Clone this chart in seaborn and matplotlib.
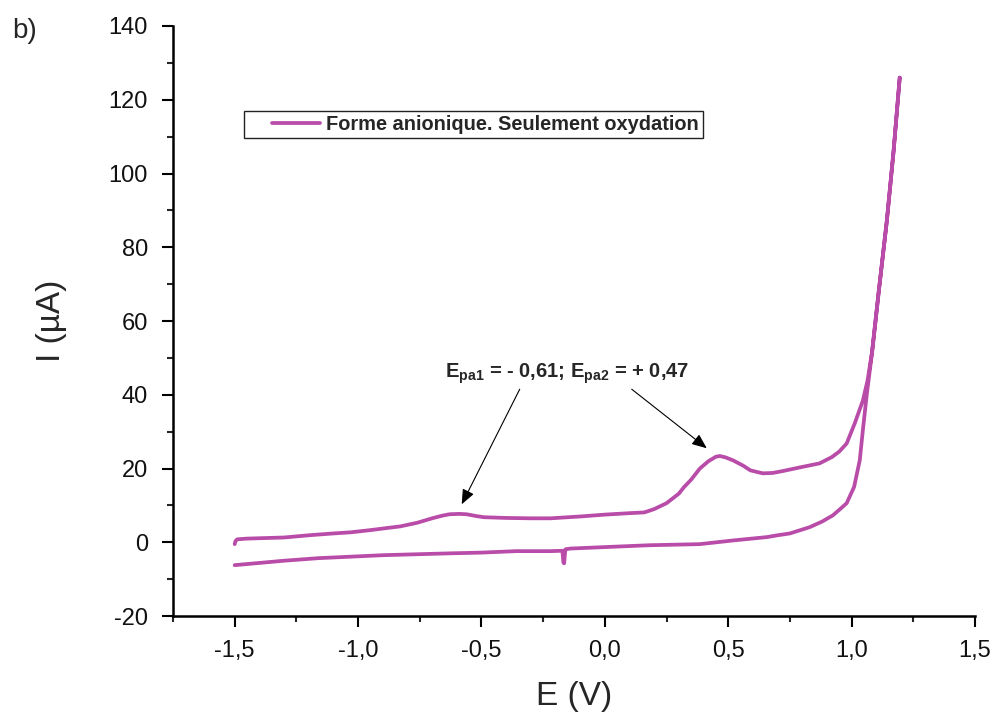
import numpy as np
import pandas as pd
import matplotlib
matplotlib.use("Agg")
import matplotlib.pyplot as plt
import seaborn as sns
from matplotlib.lines import Line2D
from matplotlib.legend_handler import HandlerLine2D

sns.set_style("ticks")
plt.rcParams['font.family'] = ['Liberation Sans', 'DejaVu Sans']
plt.rcParams['mathtext.fontset'] = 'custom'
plt.rcParams['mathtext.rm'] = 'Liberation Sans'
plt.rcParams['mathtext.bf'] = 'Liberation Sans:bold'
plt.rcParams['axes.unicode_minus'] = False

# forward (oxidation) scan
E_fwd = [-1.500, -1.497, -1.490, -1.45, -1.40, -1.30, -1.20, -1.10, -1.03, -0.95,
         -0.88, -0.83, -0.76, -0.70, -0.66, -0.63, -0.59, -0.56, -0.52, -0.49,
         -0.40, -0.30, -0.22, -0.10, 0.00, 0.10, 0.16, 0.20, 0.25, 0.30,
         0.32, 0.35, 0.385, 0.42, 0.45, 0.466, 0.49, 0.52, 0.56, 0.59,
         0.64, 0.68, 0.72, 0.79, 0.87, 0.92, 0.95, 0.98, 1.013, 1.046,
         1.065, 1.082, 1.11, 1.143, 1.17, 1.195]
I_fwd = [-0.5, 0.3, 0.8, 1.0, 1.1, 1.3, 1.9, 2.4, 2.7, 3.3,
         3.9, 4.3, 5.3, 6.5, 7.2, 7.6, 7.7, 7.6, 7.1, 6.8,
         6.6, 6.5, 6.5, 7.0, 7.5, 7.9, 8.1, 9.0, 10.6, 13.2,
         14.9, 17.0, 20.0, 22.0, 23.2, 23.4, 23.0, 22.2, 20.8, 19.5,
         18.7, 18.8, 19.3, 20.3, 21.4, 23.1, 24.6, 26.8, 32.3, 38.5,
         44.0, 51.3, 68.0, 87.3, 106.0, 126.0]

# return scan
E_rev = [1.195, 1.17, 1.143, 1.11, 1.085, 1.062, 1.045, 1.033, 1.01, 0.98,
         0.95, 0.924, 0.88, 0.83, 0.75, 0.70, 0.656, 0.52, 0.385, 0.18,
         0.00, -0.14, -0.160, -0.165, -0.168, -0.172, -0.22, -0.36, -0.50, -0.63,
         -0.90, -1.16, -1.30, -1.50]
I_rev = [126.0, 106.0, 87.3, 68.0, 52.5, 40.4, 30.0, 22.2, 15.0, 10.6,
         8.8, 7.3, 5.6, 4.1, 2.4, 1.9, 1.4, 0.5, -0.5, -0.8,
         -1.3, -1.7, -1.9, -5.7, -5.5, -2.3, -2.4, -2.4, -2.8, -3.0,
         -3.5, -4.3, -5.0, -6.2]

label = "Forme anionique. Seulement oxydation"
x_ticks = [-1.5, -1.0, -0.5, 0.0, 0.5, 1.0, 1.5]
x_ticklabels = ['-1,5', '-1,0', '-0,5', '0,0', '0,5', '1,0', '1,5']
y_ticks = [-20, 0, 20, 40, 60, 80, 100, 120, 140]

df = pd.DataFrame({'E': E_fwd + E_rev, 'I': I_fwd + I_rev})
color = '#B84CA8'

fig = plt.figure(figsize=(9.96, 7.18), dpi=100)
ax = fig.add_axes([0.1737, 0.142, 0.8052, 0.8218])
sns.lineplot(data=df, x='E', y='I', sort=False, estimator=None,
             color=color, lw=2.7, label=label, ax=ax)

ax.set_xlim(-1.75, 1.5)
ax.set_ylim(-20, 140)
ax.set_xticks(x_ticks)
ax.set_xticklabels(x_ticklabels)
ax.set_yticks(y_ticks)
ax.set_xticks(np.arange(-1.75, 1.51, 0.25), minor=True)
ax.set_yticks(np.arange(-20, 141, 10), minor=True)
ax.tick_params(axis='both', which='major', labelsize=17, length=8, width=1.5,
               direction='out', color='black', labelcolor='#111111')
ax.tick_params(axis='both', which='minor', length=4, width=1.5, direction='out')
ax.tick_params(axis='x', pad=9)
ax.tick_params(axis='y', pad=10)
sns.despine(ax=ax)
for s in ['left', 'bottom']:
    ax.spines[s].set_linewidth(1.8)
    ax.spines[s].set_color('black')

ax.set_xlabel("E (V)", fontsize=24, labelpad=14)
ax.set_ylabel("I (µA)", fontsize=24, labelpad=30)

handles, labels = ax.get_legend_handles_labels()
leg = ax.legend(handles, labels, loc='upper left', bbox_to_anchor=(0.0885, 0.856),
                borderaxespad=0, borderpad=0.2, handlelength=3.6, handletextpad=0.3,
                fancybox=False, frameon=True, framealpha=1,
                prop={'weight': 'bold', 'size': 14.4},
                handler_map={Line2D: HandlerLine2D(xpad=1.2)})
leg.get_frame().set_edgecolor('#222222')
leg.get_frame().set_linewidth(1.0)

ax.text(-0.154, 44.7, r'E$_{\mathbf{pa1}}$ = - 0,61; E$_{\mathbf{pa2}}$ = + 0,47',
        ha='center', va='baseline', fontsize=14.5, fontweight='bold')
arrow = dict(arrowstyle='-|>,head_length=0.6,head_width=0.25', color='black',
             lw=0.8, mutation_scale=15, shrinkA=0, shrinkB=0)
ax.annotate('', xy=(-0.58, 10.3), xytext=(-0.345, 41.5), arrowprops=arrow)
ax.annotate('', xy=(0.413, 25.5), xytext=(0.109, 41.5), arrowprops=arrow)

fig.text(0.012, 0.975, 'b)', fontsize=20, va='top', ha='left')

fig.savefig("out.png", dpi=100)
